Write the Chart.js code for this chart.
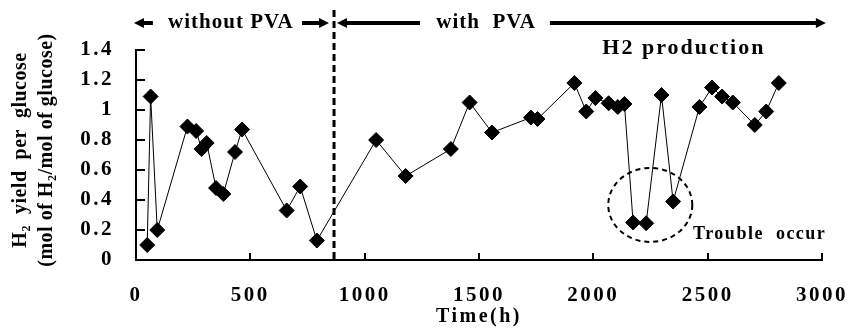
<!DOCTYPE html>
<html>
<head>
<meta charset="utf-8">
<script src="https://cdn.jsdelivr.net/npm/chart.js@4.4.1/dist/chart.umd.min.js"></script>
<style>
  html, body { margin: 0; padding: 0; background: #fff; }
</style>
</head>
<body>
<canvas id="c" width="848" height="331"></canvas>
<script>
// values
const timeH = [49, 64, 93, 225, 263, 287, 309, 350, 382, 433, 464, 659, 718, 791,
  1050, 1179, 1377, 1459, 1557, 1727, 1756, 1917, 1969, 2009, 2067, 2107, 2136,
  2174, 2231, 2298, 2349, 2464, 2519, 2563, 2610, 2706, 2756, 2811];
const yieldH2 = [0.10, 1.09, 0.20, 0.89, 0.86, 0.74, 0.78, 0.48, 0.44, 0.72, 0.87, 0.33, 0.49, 0.13,
  0.80, 0.56, 0.74, 1.05, 0.85, 0.95, 0.94, 1.18, 0.99, 1.08, 1.045, 1.02, 1.04,
  0.25, 0.245, 1.10, 0.39, 1.02, 1.15, 1.09, 1.05, 0.90, 0.99, 1.18];
const xTickLabels = ['0', '500', '1000', '1500', '2000', '2500', '3000'];
const yTickLabels = ['0', '0.2', '0.4', '0.6', '0.8', '1', '1.2', '1.4'];
const yTitle = ['H\u2082  yield  per  glucose', '(mol of H\u2082/mol of glucose)'];
const pvaStart = 866; // h, PVA added here

const serif = '"Liberation Serif", "Times New Roman", serif';
const ink = '#000';

// arrows on top row (x in hours), text labels
const arrows = [
  {from: 74, to: -9},
  {from: 726, to: 844},
  {from: 1242, to: 879},
  {from: 1810, to: 3017}
];
const notes = [
  {text: 'without PVA', x: 415, y: 23, size: 21, spacing: 1, align: 'center'},
  {text: 'with  PVA', x: 1531, y: 23, size: 21, spacing: 1, align: 'center'},
  {text: 'H2 production', x: 2396, y: 48, size: 22, spacing: 2, align: 'center'},
  {text: 'Trouble  occur', x: 2436, y: 234, size: 18, spacing: 1.5, align: 'left'}
];
const trouble = {x: 2249, y: 0.367, rx: 42, ry: 37};

function arrow(ctx, x1, x2, y) {
  const dir = x2 > x1 ? 1 : -1;
  ctx.beginPath();
  ctx.moveTo(x1, y);
  ctx.lineTo(x2 - dir * 8, y);
  ctx.stroke();
  ctx.beginPath();
  ctx.moveTo(x2, y);
  ctx.lineTo(x2 - dir * 10, y - 5);
  ctx.lineTo(x2 - dir * 10, y + 5);
  ctx.closePath();
  ctx.fill();
}

const extras = {
  id: 'extras',
  beforeDraw(chart) {
    chart.ctx.letterSpacing = '2.5px';
  },
  afterDraw(chart) {
    const ctx = chart.ctx;
    const xs = chart.scales.x, ys = chart.scales.y;
    const area = chart.chartArea;
    ctx.save();
    ctx.strokeStyle = ink;
    ctx.fillStyle = ink;

    // inward tick marks
    ctx.lineWidth = 2;
    ctx.beginPath();
    ys.ticks.forEach(t => {
      const py = Math.round(ys.getPixelForValue(t.value));
      ctx.moveTo(area.left, py);
      ctx.lineTo(area.left + 9, py);
    });
    xs.ticks.forEach(t => {
      const px = Math.round(xs.getPixelForValue(t.value));
      ctx.moveTo(px, area.bottom);
      ctx.lineTo(px, area.bottom - 7);
    });
    ctx.stroke();

    // PVA start line
    const vx = xs.getPixelForValue(pvaStart);
    ctx.lineWidth = 3;
    ctx.setLineDash([7, 4]);
    ctx.beginPath();
    ctx.moveTo(vx, 10);
    ctx.lineTo(vx, area.bottom);
    ctx.stroke();

    // trouble ellipse
    ctx.lineWidth = 2;
    ctx.setLineDash([5, 4]);
    ctx.beginPath();
    ctx.ellipse(xs.getPixelForValue(trouble.x), ys.getPixelForValue(trouble.y), trouble.rx, trouble.ry, 0, 0, Math.PI * 2);
    ctx.stroke();
    ctx.setLineDash([]);

    // arrows
    ctx.lineWidth = 4;
    arrows.forEach(a => arrow(ctx, xs.getPixelForValue(a.from), xs.getPixelForValue(a.to), 23));

    // notes
    ctx.textBaseline = 'middle';
    notes.forEach(n => {
      ctx.font = 'bold ' + n.size + 'px ' + serif;
      ctx.letterSpacing = n.spacing + 'px';
      ctx.textAlign = n.align;
      ctx.fillText(n.text, xs.getPixelForValue(n.x), n.y);
    });

    // y axis title, two rotated lines
    ctx.font = 'bold 20px ' + serif;
    ctx.letterSpacing = '0.5px';
    ctx.textAlign = 'center';
    ctx.translate(ys.left, (area.top + area.bottom) / 2 - 5);
    ctx.rotate(-Math.PI / 2);
    yTitle.forEach((line, i) => ctx.fillText(line, 0, 21 + i * 26));
    ctx.restore();
    ctx.letterSpacing = '0px';
  }
};

new Chart(document.getElementById('c'), {
  type: 'scatter',
  data: {
    datasets: [{
      data: timeH.map((t, i) => ({x: t, y: yieldH2[i]})),
      showLine: true,
      borderColor: ink,
      borderWidth: 1,
      backgroundColor: ink,
      pointStyle: 'rectRot',
      pointRadius: 7.5,
      pointHoverRadius: 7.5,
      pointBorderWidth: 1,
      pointBorderColor: ink,
      clip: false
    }]
  },
  options: {
    responsive: false,
    animation: false,
    devicePixelRatio: 1,
    layout: {padding: {top: 50, right: 26, left: 0, bottom: 0}},
    plugins: {legend: {display: false}, tooltip: {enabled: false}},
    scales: {
      x: {
        type: 'linear',
        min: 0, max: 3000,
        grid: {display: false, drawTicks: false},
        border: {display: true, color: ink, width: 2},
        ticks: {
          stepSize: 500,
          padding: 23,
          color: ink,
          maxRotation: 0,
          font: {family: serif, size: 21, weight: 'bold'},
          callback: (v, i) => xTickLabels[i]
        },
        title: {
          display: true,
          text: 'Time(h)',
          color: ink,
          font: {family: serif, size: 20, weight: 'bold', lineHeight: 1.2},
          padding: {top: 0, bottom: 2}
        },
        afterFit: s => { s.height = 71; s.paddingLeft = 0; s.paddingRight = 0; }
      },
      y: {
        min: 0, max: 1.4,
        grid: {display: false, drawTicks: false},
        border: {display: true, color: ink, width: 2},
        ticks: {
          stepSize: 0.2,
          padding: 22,
          color: ink,
          font: {family: serif, size: 21, weight: 'bold'},
          callback: (v, i) => yTickLabels[i]
        },
        afterFit: s => { s.width = 136; s.paddingTop = 0; s.paddingBottom = 0; }
      }
    }
  },
  plugins: [extras]
});
</script>
</body>
</html>
